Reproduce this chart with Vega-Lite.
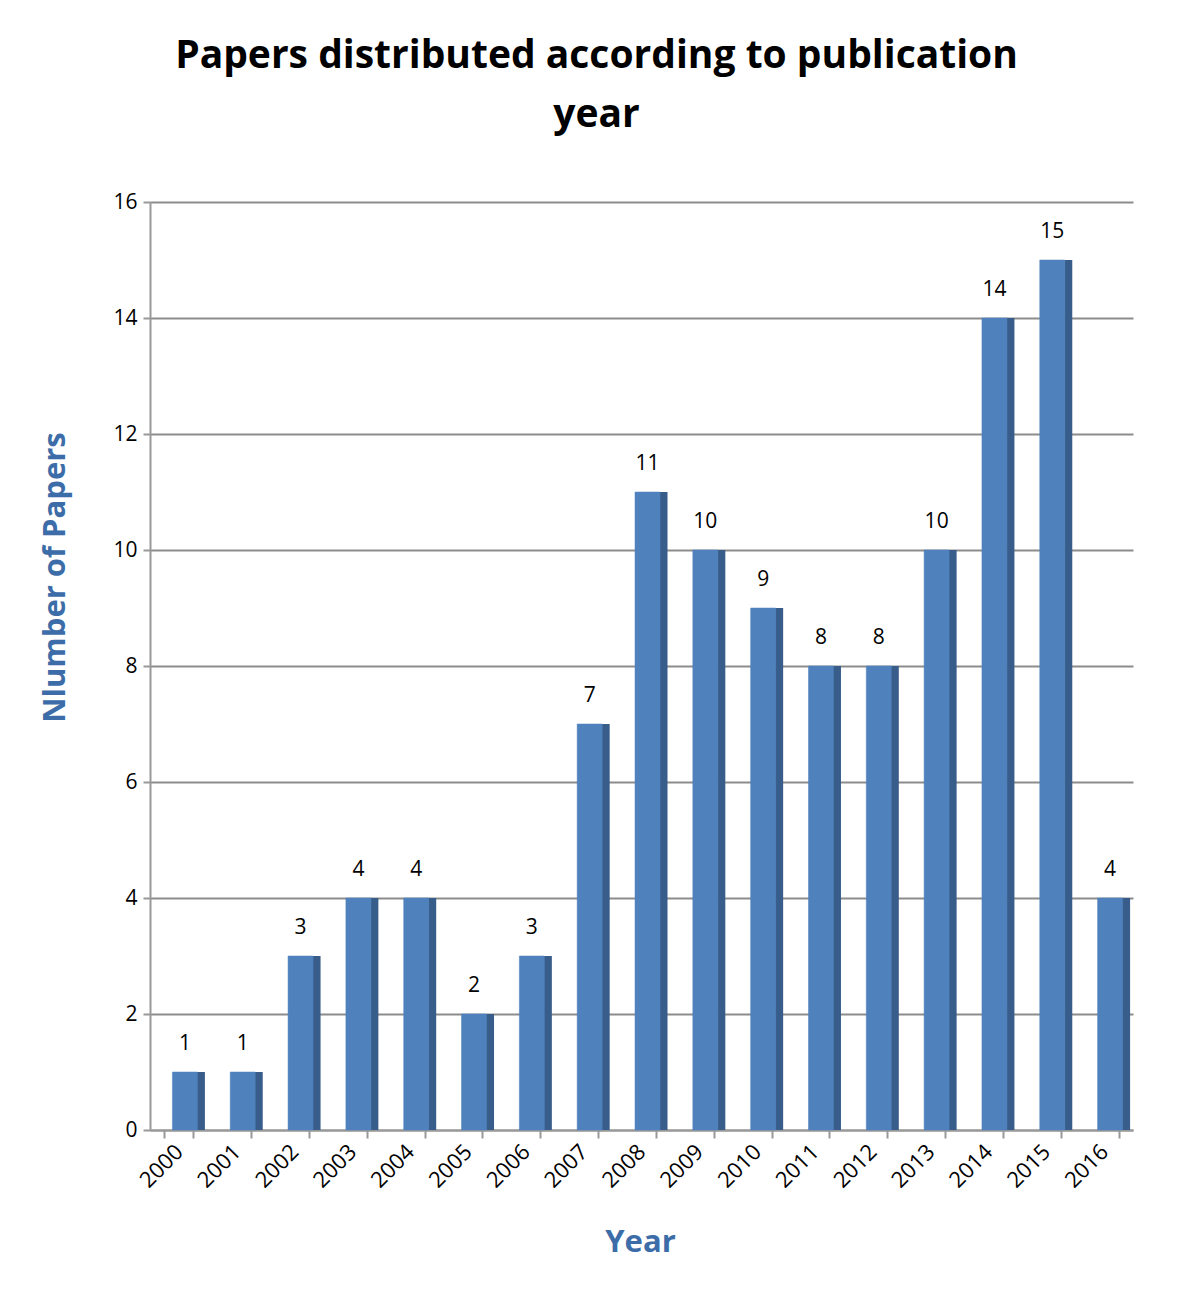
{
  "$schema": "https://vega.github.io/schema/vega-lite/v6.json",
  "width": 983,
  "height": 928,
  "autosize": "none",
  "padding": {"left": 150, "top": 202, "right": 56, "bottom": 169},
  "background": "white",
  "config": {
    "font": "Open Sans",
    "view": {"stroke": null}
  },
  "title": {
    "text": ["Papers distributed according to publication", "year"],
    "fontSize": 39,
    "fontWeight": "bold",
    "font": "Open Sans",
    "color": "#000000",
    "lineHeight": 59,
    "anchor": "middle",
    "dx": -45,
    "offset": 56
  },
  "data": {
    "values": [
      {"year": "2000", "papers": 1},
      {"year": "2001", "papers": 1},
      {"year": "2002", "papers": 3},
      {"year": "2003", "papers": 4},
      {"year": "2004", "papers": 4},
      {"year": "2005", "papers": 2},
      {"year": "2006", "papers": 3},
      {"year": "2007", "papers": 7},
      {"year": "2008", "papers": 11},
      {"year": "2009", "papers": 10},
      {"year": "2010", "papers": 9},
      {"year": "2011", "papers": 8},
      {"year": "2012", "papers": 8},
      {"year": "2013", "papers": 10},
      {"year": "2014", "papers": 14},
      {"year": "2015", "papers": 15},
      {"year": "2016", "papers": 4}
    ]
  },
  "encoding": {
    "x": {
      "field": "year",
      "type": "ordinal",
      "sort": null,
      "scale": {"paddingInner": 0.5, "paddingOuter": 0.25},
      "axis": {
        "title": "Year",
        "titleFontSize": 31,
        "titleFontWeight": "bold",
        "titleColor": "#3D6DA8",
        "titleY": 112,
        "titleX": 490,
        "titleBaseline": "middle",
        "labelAngle": -45,
        "labelAlign": "right",
        "labelBaseline": "middle",
        "labelFontSize": 22,
        "labelColor": "#000000",
        "labelPadding": 10,
        "labelOverlap": false,
        "tickBand": "extent",
        "tickColor": "#999999",
        "tickSize": 8,
        "tickWidth": 2,
        "domainColor": "#999999",
        "domainWidth": 2,
        "grid": false
      }
    },
    "y": {
      "field": "papers",
      "type": "quantitative",
      "scale": {"domain": [0, 16]},
      "axis": {
        "title": "Nlumber of Papers",
        "titleFontSize": 31,
        "titleFontWeight": "bold",
        "titleColor": "#3D6DA8",
        "titleX": -95,
        "titleY": 375,
        "titleAngle": -90,
        "titleAlign": "center",
        "titleBaseline": "middle",
        "values": [0, 2, 4, 6, 8, 10, 12, 14, 16],
        "labelFontSize": 21,
        "labelColor": "#000000",
        "labelPadding": 6,
        "tickColor": "#999999",
        "tickSize": 7,
        "tickWidth": 2,
        "domainColor": "#999999",
        "domainWidth": 2,
        "grid": true,
        "gridColor": "#8C8C8C",
        "gridWidth": 2
      }
    }
  },
  "layer": [
    {
      "mark": {"type": "bar", "width": 8, "xOffset": 22, "color": "#385D8A"}
    },
    {
      "mark": {"type": "bar", "width": 25, "xOffset": 6, "color": "#4F81BD", "stroke": "#4F81BD", "strokeWidth": 0.5}
    },
    {
      "mark": {"type": "text", "dy": -28, "xOffset": 6, "fontSize": 21, "color": "#000000", "font": "Open Sans"},
      "encoding": {"text": {"field": "papers", "type": "quantitative"}}
    }
  ]
}
